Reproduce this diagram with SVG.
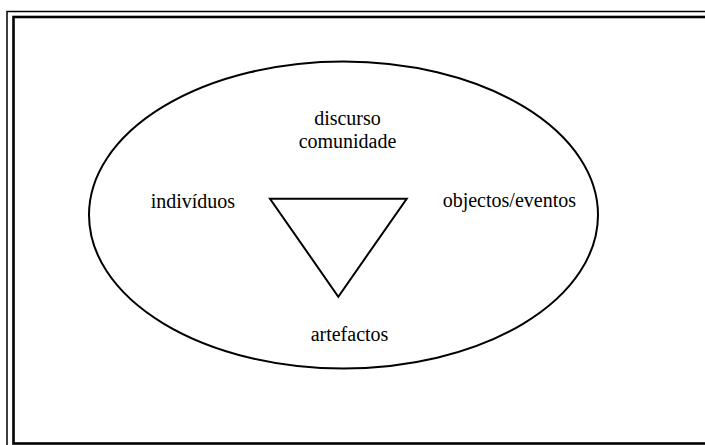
<svg xmlns="http://www.w3.org/2000/svg" width="705" height="445" viewBox="0 0 705 445">
<style>
.t{font-family:"Liberation Serif","Times New Roman",serif;font-size:20px;fill:#000}
.s{fill:none;stroke:#000}
</style>
<rect width="705" height="445" fill="#fff"/>
<g id="frame">
<rect class="s" x="7" y="11.5" width="720" height="460" stroke-width="1.5"/>
<rect class="s" x="13.5" y="17" width="710" height="426.5" stroke-width="2.6"/>
</g>
<g id="ellipse"><ellipse class="s" cx="343.5" cy="215" rx="254.5" ry="153.5" stroke-width="2"/></g>
<g id="triangle"><polygon class="s" points="270,198.7 406.7,198.7 338.3,296.7" stroke-width="2"/></g>
<g id="discurso"><text class="t" x="347.5" y="125" text-anchor="middle">discurso</text><text class="t" x="347.5" y="148" text-anchor="middle">comunidade</text></g>
<g id="individuos"><text class="t" x="150.7" y="208">indivíduos</text></g>
<g id="objectos"><text class="t" x="442.7" y="207">objectos/eventos</text></g>
<g id="artefactos"><text class="t" x="349.5" y="341" text-anchor="middle">artefactos</text></g>
</svg>
